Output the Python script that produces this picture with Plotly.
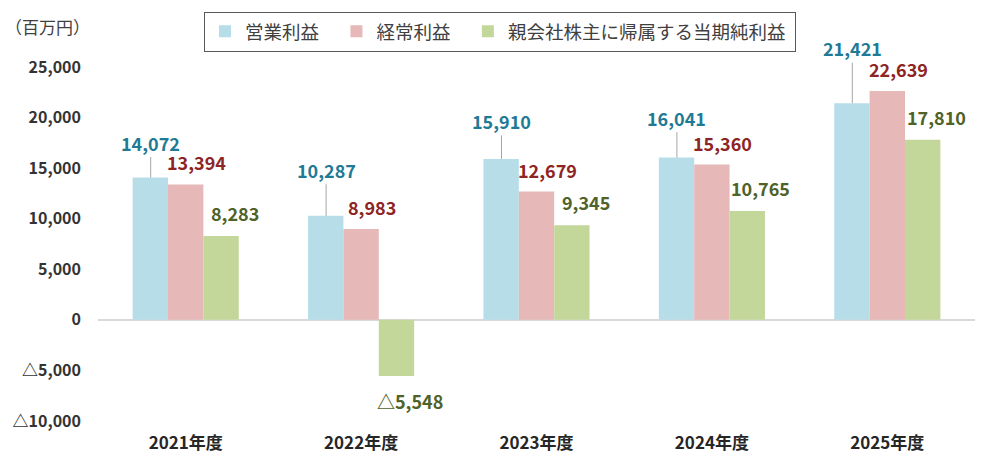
import plotly.graph_objects as go

years = ["2021年度", "2022年度", "2023年度", "2024年度", "2025年度"]
operating = [14072, 10287, 15910, 16041, 21421]
ordinary = [13394, 8983, 12679, 15360, 22639]
net_income = [8283, -5548, 9345, 10765, 17810]

series_names = ["営業利益", "経常利益", "親会社株主に帰属する当期純利益"]
tick_vals = [-10000, -5000, 0, 5000, 10000, 15000, 20000, 25000]

bar_colors = ["#B7DEE8", "#E6B9B8", "#C4D79B"]
label_colors = ["#1F7A95", "#8E2424", "#4F6228"]
FONT = "Noto Sans CJK JP"


def fmt(v):
    return ("△" if v < 0 else "") + f"{abs(v):,}"


fig = go.Figure()
for i, (name, vals, col) in enumerate(zip(series_names, [operating, ordinary, net_income], bar_colors)):
    pad = "\u00a0\u00a0\u00a0" if i < 2 else "\u00a0"
    fig.add_trace(go.Bar(x=years, y=vals, name=name + pad, marker_color=col,
                         marker_line_width=0))

# blue labels sit higher with a leader line
blue_lift = [35, 46, 38, 40, 55]
for yr, v, lift in zip(years, operating, blue_lift):
    fig.add_annotation(x=yr, y=v, xref="x", yref="y", text=fmt(v), xshift=-35,
                       showarrow=True, arrowhead=0, arrowwidth=1, arrowcolor="#A6A6A6",
                       ax=0, ay=-lift, standoff=0,
                       font=dict(family=FONT, size=18, color=label_colors[0], weight="bold"))

for yr, v in zip(years, ordinary):
    fig.add_annotation(x=yr, y=v, xref="x", yref="y", text=fmt(v), xshift=11,
                       yshift=22, showarrow=False,
                       font=dict(family=FONT, size=18, color=label_colors[1], weight="bold"))

for yr, v in zip(years, net_income):
    fig.add_annotation(x=yr, y=v, xref="x", yref="y", text=fmt(v), xshift=49,
                       yshift=23 if v > 0 else -25, showarrow=False,
                       font=dict(family=FONT, size=18, color=label_colors[2], weight="bold"))

fig.add_annotation(text="（百万円）", xref="x domain", yref="y domain",
                   x=-0.108, y=1.113, xanchor="left", yanchor="middle", showarrow=False,
                   font=dict(family=FONT, size=17, color="#404040"))

fig.update_yaxes(range=[-10000, 25000], tickvals=tick_vals,
                 ticktext=[fmt(v) for v in tick_vals], showgrid=False,
                 zeroline=True, zerolinecolor="#D9D9D9", zerolinewidth=1.5,
                 tickfont=dict(family=FONT, size=16, color="#333333", weight="bold"),
                 ticks="", ticklabelstandoff=16)
fig.update_xaxes(showgrid=False, showline=False, ticks="", ticklabelstandoff=10,
                 tickfont=dict(family=FONT, size=17, color="#262626", weight="bold"))

fig.update_layout(
    barmode="group",
    bargap=0.395,
    bargroupgap=0,
    width=1000,
    height=473,
    margin={"l": 98, "r": 25, "t": 67, "b": 52, "autoexpand": False},
    plot_bgcolor="white",
    paper_bgcolor="white",
    font=dict(family=FONT),
    legend=dict(orientation="h", xref="container", yref="container",
                x=0.5, xanchor="center", y=0.975, yanchor="top",
                bordercolor="#595959", borderwidth=1,
                font=dict(family=FONT, size=18.5, color="#404040"),
                itemwidth=30, tracegroupgap=0),
    showlegend=True,
)

fig.write_html("out.html", config={"displayModeBar": False},
               post_script="document.body.style.margin='0';")
